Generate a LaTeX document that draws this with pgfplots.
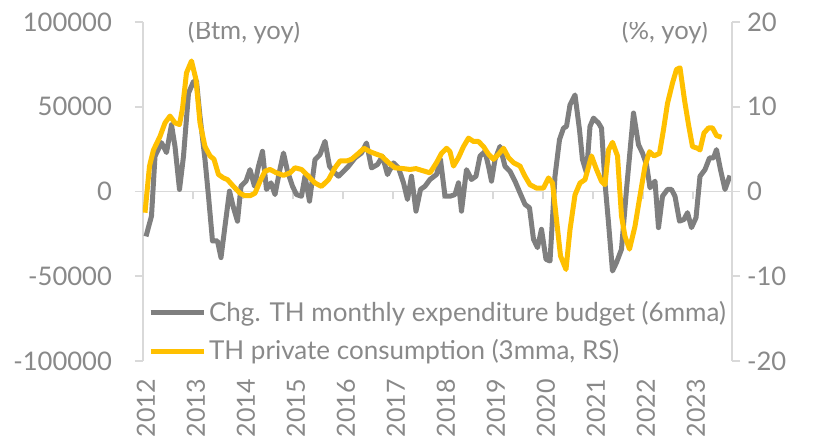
\documentclass[border=0pt]{standalone}
\usepackage{pgfplots}
\pgfplotsset{compat=1.18}
\usepackage{pgfplotstable}
\usepackage{fontspec}
\setmainfont{Lato}
\definecolor{lgray}{RGB}{127,127,127}
\definecolor{gold}{RGB}{255,192,0}
\definecolor{axgray}{RGB}{217,217,217}
\definecolor{txtgray}{RGB}{137,137,137}

\pgfplotstableread{
x y
2012.06 -26500
2012.17 -14500
2012.24 20800
2012.37 28800
2012.47 23000
2012.57 39400
2012.64 26600
2012.73 1200
2012.81 20800
2012.91 58000
2013.01 64900
2013.07 65000
2013.14 44300
2013.24 18800
2013.31 -2800
2013.39 -29200
2013.49 -29200
2013.56 -39000
2013.64 -20400
2013.73 200
2013.81 -9600
2013.89 -17500
2013.96 3100
2014.06 6100
2014.14 12900
2014.23 3100
2014.31 14900
2014.39 23700
2014.47 1200
2014.56 5100
2014.64 -1800
2014.73 11900
2014.81 22700
2014.89 11900
2014.99 3100
2015.07 -1800
2015.17 -2800
2015.24 9000
2015.33 -5700
2015.44 18800
2015.54 21800
2015.64 29600
2015.73 14900
2015.81 11900
2015.91 9000
2016.01 11900
2016.11 14900
2016.24 19800
2016.37 22700
2016.47 28600
2016.57 13900
2016.69 15900
2016.79 20800
2016.89 10000
2017.01 16900
2017.11 13900
2017.21 5100
2017.29 -4700
2017.37 9000
2017.46 -11600
2017.55 1200
2017.64 3100
2017.74 7100
2017.87 10000
2017.95 18800
2018.04 -2800
2018.14 -2800
2018.24 -1800
2018.31 5100
2018.37 -11600
2018.47 12900
2018.57 7100
2018.66 9000
2018.74 20800
2018.84 23700
2018.91 14900
2018.97 6100
2019.04 18800
2019.14 26600
2019.24 14900
2019.34 11900
2019.44 6100
2019.54 -800
2019.64 -7600
2019.73 -9600
2019.81 -28200
2019.89 -33100
2019.97 -22300
2020.06 -40000
2020.14 -41000
2020.24 9000
2020.33 30600
2020.41 37400
2020.47 38400
2020.54 51100
2020.64 57000
2020.73 36400
2020.79 18800
2020.87 11000
2020.94 38400
2021.01 43300
2021.11 40400
2021.17 37400
2021.24 5100
2021.31 -18400
2021.39 -46900
2021.47 -41900
2021.57 -34100
2021.67 1200
2021.81 46300
2021.91 27600
2021.99 22700
2022.07 15900
2022.14 2200
2022.24 6100
2022.31 -21300
2022.39 -2800
2022.49 1200
2022.57 1200
2022.64 -2800
2022.73 -17500
2022.82 -16500
2022.89 -12500
2022.97 -21300
2023.06 -15500
2023.14 9000
2023.24 12900
2023.33 19800
2023.41 19800
2023.47 24700
2023.55 12900
2023.64 1200
2023.74 9400
}\budget

\pgfplotstableread{
x y
2012.04 -2.5
2012.13 3.0
2012.21 4.9
2012.34 6.5
2012.44 8.1
2012.54 8.9
2012.64 8.1
2012.73 7.9
2012.79 9.8
2012.87 14.0
2012.97 15.4
2013.06 13.2
2013.14 8.1
2013.24 5.3
2013.34 4.2
2013.42 3.8
2013.51 2.0
2013.61 1.6
2013.69 1.4
2013.81 0.6
2013.94 -0.2
2014.04 -0.5
2014.14 -0.5
2014.24 -0.2
2014.34 1.2
2014.44 2.4
2014.54 2.6
2014.67 2.2
2014.81 1.9
2014.94 2.2
2015.04 2.8
2015.17 2.6
2015.31 1.8
2015.44 1.0
2015.57 0.6
2015.71 1.4
2015.84 2.8
2015.94 3.6
2016.07 3.6
2016.17 3.8
2016.31 4.5
2016.42 5.1
2016.54 4.7
2016.67 4.4
2016.77 4.2
2016.91 3.4
2017.04 2.8
2017.21 2.7
2017.34 2.6
2017.46 2.7
2017.57 2.5
2017.74 2.2
2017.87 3.4
2017.97 4.5
2018.07 5.1
2018.14 4.7
2018.21 3.0
2018.31 4.0
2018.41 5.3
2018.51 6.3
2018.61 5.9
2018.71 5.9
2018.81 5.3
2018.91 4.4
2019.01 3.8
2019.11 4.4
2019.21 5.1
2019.31 4.0
2019.41 3.4
2019.54 3.0
2019.64 1.8
2019.74 0.8
2019.87 0.4
2020.01 0.4
2020.11 1.6
2020.19 1.0
2020.27 -3.3
2020.35 -7.6
2020.46 -9.2
2020.54 -4.5
2020.64 -0.4
2020.74 1.0
2020.84 1.4
2020.97 4.2
2021.07 2.6
2021.17 1.2
2021.24 0.8
2021.31 4.9
2021.39 5.8
2021.49 4.2
2021.57 -2.9
2021.64 -5.3
2021.73 -6.8
2021.84 -4.1
2021.94 -0.5
2022.04 3.0
2022.13 4.7
2022.22 4.2
2022.33 4.5
2022.41 7.3
2022.49 10.4
2022.59 12.8
2022.67 14.4
2022.74 14.6
2022.83 10.8
2022.91 7.9
2022.99 5.3
2023.09 5.1
2023.14 4.9
2023.22 6.9
2023.31 7.5
2023.39 7.5
2023.47 6.6
2023.57 6.4
}\pcons

\begin{document}
\begin{tikzpicture}
\path[use as bounding box] (-71.5pt,-38.5pt) rectangle (336pt,180.5pt);
\pgfplotsset{
  base/.style={
    scale only axis, width=294.5pt, height=169.5pt,
    xmin=2012, xmax=2023.78,
    /pgf/number format/assume math mode=true,
    tick label style={font=\fontsize{12.8}{14}\selectfont, text=txtgray},
    axis line style={axgray, line width=0.8pt},
    tick style={axgray, line width=0.8pt},
    major tick length=4pt,
    tick align=outside,
  }
}
\begin{axis}[base,
  axis y line*=left, axis x line*=middle,
  ymin=-100000, ymax=100000,
  ytick={-100000,-50000,0,50000,100000},
  scaled y ticks=false,
  yticklabel style={/pgf/number format/fixed, /pgf/number format/1000 sep={}, xshift=-8pt},
  xtick={2013,2014,...,2023}, xticklabels={},
]
\addplot[lgray, line width=2.5pt, line join=round] table {\budget};
\end{axis}
\begin{axis}[base,
  axis y line*=right, axis x line*=bottom,
  x axis line style={draw=none},
  ymin=-20, ymax=20,
  ytick={-20,-10,0,10,20},
  xtick={2012,2013,...,2023},
  xticklabel style={rotate=90, anchor=east, /pgf/number format/1000 sep={}, xshift=-1.5pt, yshift=-1.5pt, font=\fontsize{12.5}{14}\selectfont},
  major x tick style={draw=none},
  legend style={at={(0.008,0.0855)}, anchor=west, draw=none, fill=none,
    font=\fontsize{13}{15}\selectfont, text=txtgray, row sep=3.5pt, inner sep=0pt,
    nodes={inner xsep=1.5pt}},
  legend cell align=left,
  legend image code/.code={\draw[#1] (0pt,0pt) -- (26.5pt,0pt);},
]
\addlegendimage{lgray, line width=2.5pt}
\addlegendentry{Chg. TH monthly expenditure budget (6mma)}
\addplot[gold, line width=2.5pt, line join=round] table {\pcons};
\addlegendentry{TH private consumption (3mma, RS)}
\node[font=\fontsize{12.8}{14}\selectfont, text=txtgray] at (rel axis cs:0.1715,0.9705) {(Btm, yoy)};
\node[font=\fontsize{12.8}{14}\selectfont, text=txtgray] at (rel axis cs:0.886,0.9705) {(\%, yoy)};
\end{axis}
\end{tikzpicture}
\end{document}
